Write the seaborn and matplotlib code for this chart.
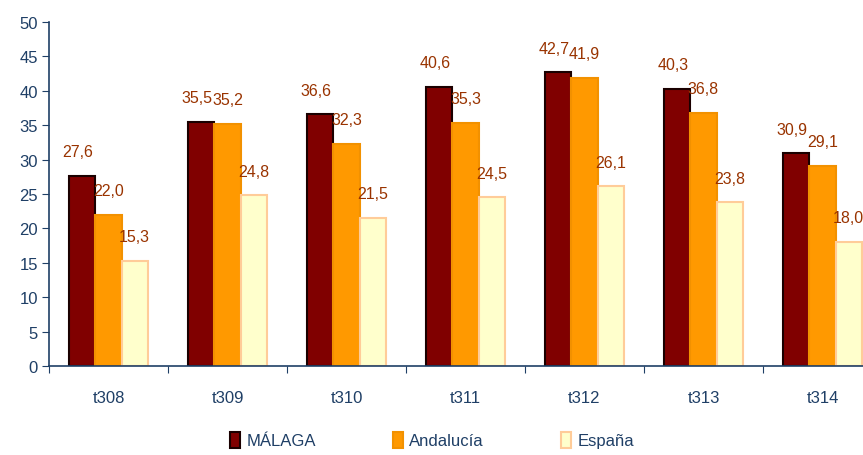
import pandas as pd
import numpy as np
import matplotlib.pyplot as plt
import seaborn as sns

periodos = ["t308", "t309", "t310", "t311", "t312", "t313", "t314"]
malaga = [27.6, 35.5, 36.6, 40.6, 42.7, 40.3, 30.9]
andalucia = [22.0, 35.2, 32.3, 35.3, 41.9, 36.8, 29.1]
espana = [15.3, 24.8, 21.5, 24.5, 26.1, 23.8, 18.0]
series = ["MÁLAGA", "Andalucía", "España"]

df = pd.DataFrame({
    "periodo": periodos * 3,
    "valor": malaga + andalucia + espana,
    "serie": [series[0]] * 7 + [series[1]] * 7 + [series[2]] * 7,
})

sns.set_style("white")
plt.rcParams['font.family'] = ['Liberation Sans Narrow', 'Liberation Sans', 'DejaVu Sans']

fills = ["#800000", "#FF9900", "#FFFFCC"]
edges = ["#1a0000", "#F29100", "#FFCC99"]
blue = "#1F3F66"
lab = "#993300"

fig = plt.figure(figsize=(8.63, 4.56), dpi=100)
ax = fig.add_axes([49 / 863, 1 - 367 / 456, 833 / 863, 344 / 456])

sns.barplot(data=df, x="periodo", y="valor", hue="serie", palette=fills,
            width=0.66, saturation=1, ax=ax, legend=False)

# valores encima de cada barra, con coma decimal
for i, (cont, ec) in enumerate(zip(ax.containers, edges)):
    for bar in cont:
        bar.set_edgecolor(ec)
        bar.set_linewidth(1.5)
    labels = [f"{v:.1f}".replace(".", ",") for v in cont.datavalues]
    dx = -3 if i == 0 else 0
    for bar, t in zip(cont, labels):
        ax.annotate(t, (bar.get_x() + bar.get_width() / 2, bar.get_height()),
                    xytext=(dx, 12), textcoords="offset points", ha="center",
                    va="bottom", color=lab, fontsize=11.5)

ax.set_ylim(0, 50)
ax.set_xlim(-0.5, 6.5)
ax.set_yticks(range(0, 51, 5))
ax.set_xticks(np.arange(-0.5, 7, 1), minor=False)
ax.set_xticklabels([])
ax.set_xticks(range(7), minor=True)
ax.set_xticklabels(periodos, minor=True)
ax.tick_params(axis="x", which="major", length=5, direction="out", color=blue, bottom=True)
ax.tick_params(axis="x", which="minor", length=0, pad=17, labelsize=12, labelcolor=blue)
ax.tick_params(axis="y", length=5, direction="out", color=blue, left=True, labelsize=12,
               labelcolor=blue, pad=3)
ax.set_xlabel("")
ax.set_ylabel("")
for s in ["top", "right"]:
    ax.spines[s].set_visible(False)
for s in ["left", "bottom"]:
    ax.spines[s].set_color(blue)
    ax.spines[s].set_linewidth(1.2)

handles = [plt.Rectangle((0, 0), 1, 1, facecolor=f, edgecolor=e, linewidth=1.5)
           for f, e in zip(fills, edges)]
leg = fig.legend(handles, series, loc="center", bbox_to_anchor=(432 / 863, 1 - 441 / 456),
                 ncol=3, frameon=False, handlelength=0.6, handleheight=1.1,
                 handletextpad=0.4, columnspacing=4.6, fontsize=12)
for t in leg.get_texts():
    t.set_color(blue)

fig.savefig("out.png", dpi=100)
